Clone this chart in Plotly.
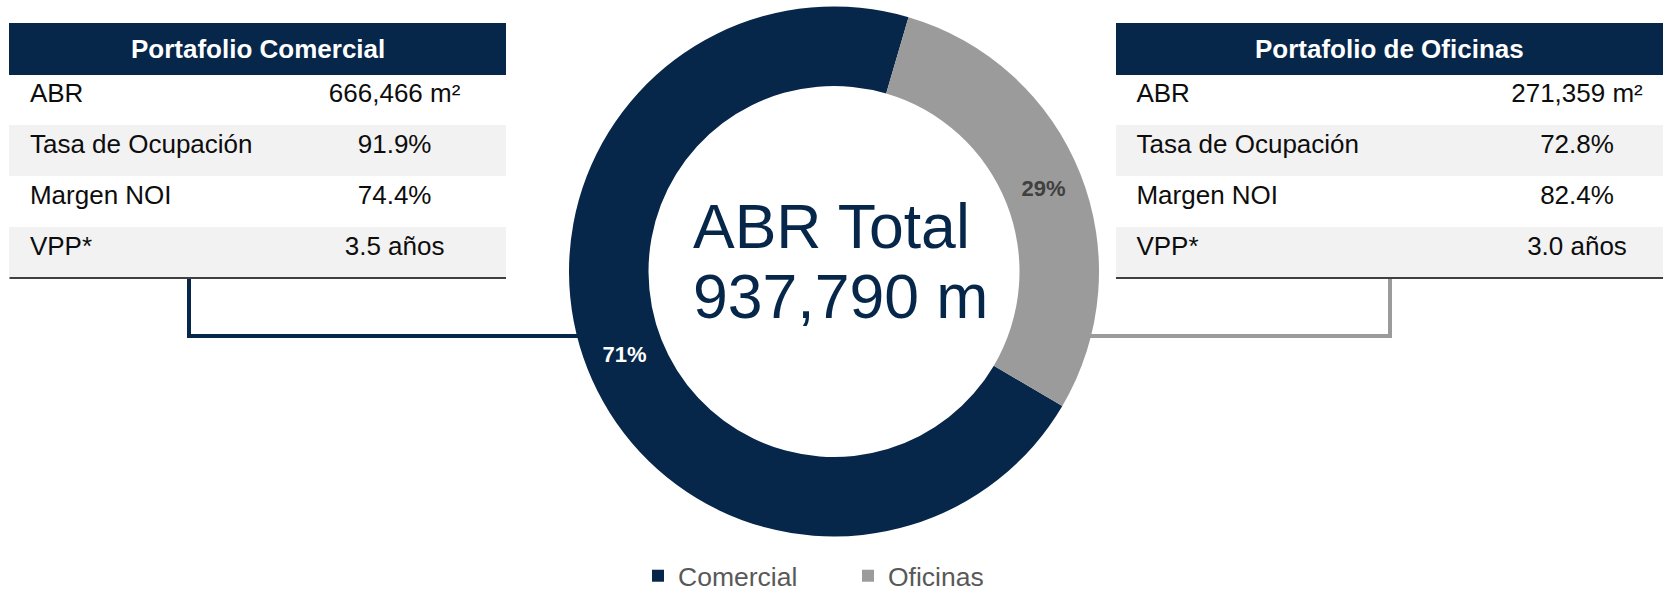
import plotly.graph_objects as go

# ---------------- data ----------------
segments = ["Comercial", "Oficinas"]
abr_m2 = [666466, 271359]
seg_colors = ["#06264A", "#9B9B9B"]
pct_text_colors = ["#FFFFFF", "#404040"]

row_labels = ["ABR", "Tasa de Ocupación", "Margen NOI", "VPP*"]
comercial_values = ["666,466 m²", "91.9%", "74.4%", "3.5 años"]
oficinas_values = ["271,359 m²", "72.8%", "82.4%", "3.0 años"]
table_titles = ["Portafolio Comercial", "Portafolio de Oficinas"]
center_lines = ["ABR Total", "937,790 m"]

# ---------------- layout helpers ----------------
W, H = 1663, 593
def X(px):
    return px / W
def Y(py):
    return 1 - py / H

NAVY = "#06264A"
GRAY = "#9B9B9B"
ROWFILL = ["#FFFFFF", "#F2F2F2", "#FFFFFF", "#F2F2F2"]
FONT = "Liberation Sans, Arial, sans-serif"
NB = "\u00a0"

fig = go.Figure()

# donut
fig.add_trace(go.Pie(
    labels=segments,
    values=abr_m2,
    hole=0.70,
    sort=False,
    direction="clockwise",
    rotation=120.5,
    marker=dict(colors=seg_colors, line=dict(width=0)),
    texttemplate="%{percent:.0%}",
    textposition="inside",
    insidetextorientation="horizontal",
    textfont=dict(family=FONT, size=22, color=pct_text_colors, weight="bold"),
    domain=dict(x=[X(569), X(1099)], y=[Y(537), Y(6)]),
    showlegend=True,
    hoverinfo="label+value+percent",
))

def add_table(x0, x1, values, colwidths):
    labels = [NB + "\u2009" + r.replace(" ", NB) for r in row_labels]
    vals = [v.replace(" ", NB) for v in values]
    fig.add_trace(go.Table(
        domain=dict(x=[X(x0), X(x1)], y=[Y(300), Y(23)]),
        columnwidth=colwidths,
        header=dict(
            values=[" ", " "],
            fill_color=NAVY,
            line=dict(color=NAVY, width=1),
            height=51,
            font=dict(family=FONT, size=26, color="white"),
        ),
        cells=dict(
            values=[labels, vals],
            fill_color=[ROWFILL, ROWFILL],
            line=dict(color=[ROWFILL, ROWFILL], width=1),
            align=["left", "center"],
            height=51,
            font=dict(family=FONT, size=26, color="#0D0D0D"),
        ),
    ))

add_table(9.5, 506, comercial_values, [274.5, 222])
add_table(1116, 1663, oficinas_values, [375, 172])

annotations = []
for title, (x0, x1) in zip(table_titles, [(9.5, 506), (1116, 1663)]):
    annotations.append(dict(
        text="<b>" + title + "</b>", x=X((x0 + x1) / 2), y=Y(48.5),
        xref="paper", yref="paper", showarrow=False,
        xanchor="center", yanchor="middle",
        font=dict(family=FONT, size=26, color="white"),
    ))
for line, cy in zip(center_lines, [226, 296]):
    annotations.append(dict(
        text=line, x=X(691), y=Y(cy), xref="paper", yref="paper",
        showarrow=False, xanchor="left", yanchor="middle",
        font=dict(family=FONT, size=62.5, color=NAVY),
    ))

shapes = [
    # table bottom rules
    dict(type="line", xref="paper", yref="paper", x0=X(9.5), x1=X(506),
         y0=Y(278), y1=Y(278), line=dict(color="#404040", width=2)),
    dict(type="line", xref="paper", yref="paper", x0=X(1116), x1=X(1663),
         y0=Y(278), y1=Y(278), line=dict(color="#404040", width=2)),
    # connectors
    dict(type="path", xref="paper", yref="paper", layer="below",
         path=f"M {X(189)} {Y(279)} L {X(189)} {Y(336)} L {X(600)} {Y(336)}",
         line=dict(color=NAVY, width=4)),
    dict(type="path", xref="paper", yref="paper", layer="below",
         path=f"M {X(1390)} {Y(279)} L {X(1390)} {Y(336)} L {X(1070)} {Y(336)}",
         line=dict(color=GRAY, width=4)),
]

fig.update_layout(
    width=W, height=H,
    margin=dict(l=0, r=0, t=0, b=0, autoexpand=False),
    paper_bgcolor="white", plot_bgcolor="white",
    font=dict(family=FONT),
    annotations=annotations,
    shapes=shapes,
    legend=dict(
        orientation="h", x=X(638), xanchor="left", y=Y(576), yanchor="middle",
        font=dict(family=FONT, size=26.5, color="#595959"),
        entrywidth=165, itemwidth=30, bgcolor="rgba(0,0,0,0)",
        traceorder="normal",
    ),
)

fig.write_html("out.html", config={"displayModeBar": False},
               post_script="document.body.style.margin='0';")
